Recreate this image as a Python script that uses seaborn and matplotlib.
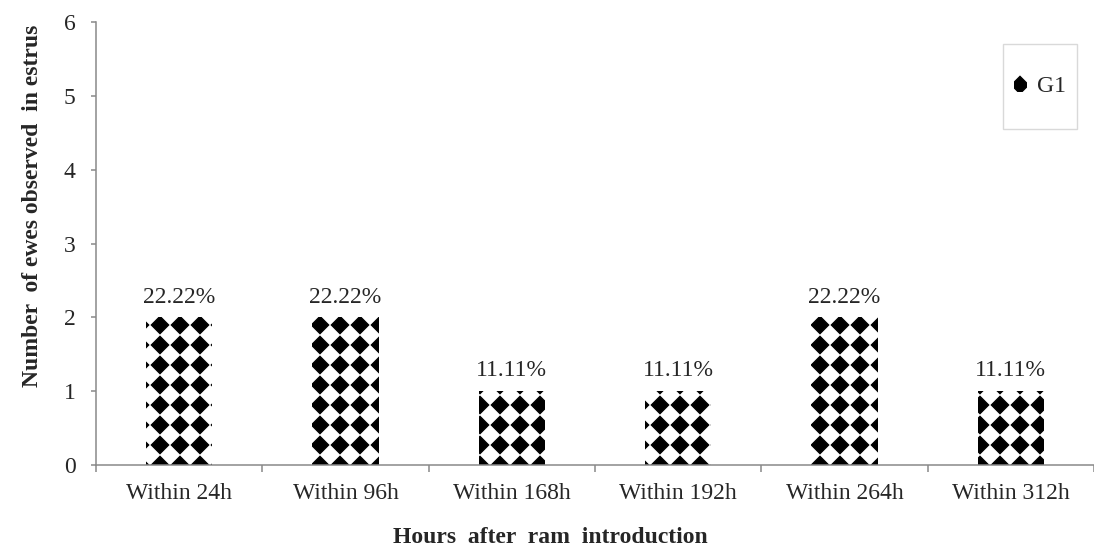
import numpy as np
import matplotlib
matplotlib.use("Agg")
import matplotlib.pyplot as plt
import matplotlib.hatch as mhatch
from matplotlib.path import Path
from matplotlib.patches import Patch, Rectangle
import seaborn as sns

categories = ["Within 24h", "Within 96h", "Within 168h", "Within 192h", "Within 264h", "Within 312h"]
ewes = [2, 2, 1, 1, 2, 1]
pct_labels = ["22.22%", "22.22%", "11.11%", "11.11%", "22.22%", "11.11%"]
y_ticks = [0, 1, 2, 3, 4, 5, 6]
series_name = "G1"

axis_grey = "#898989"


# diamond checker fill, like the excel pattern: '*' is swapped for a square grid of diamonds
# (one extra ring of cells so diamonds cut by the tile edge wrap round cleanly)
class DiamondGrid(mhatch.HatchPatternBase):
    def __init__(self, hatch, density):
        self.n = hatch.count('*') * 5
        self.num_vertices = 0 if self.n == 0 else (self.n + 2) ** 2 * 5

    def set_vertices_and_codes(self, vertices, codes):
        n = self.n
        r = 0.43 / n
        k = 0
        for i in range(-1, n + 1):
            for j in range(-1, n + 1):
                cx, cy = i / n, (j + 0.75) / n
                vertices[k:k + 5] = [(cx + r, cy), (cx, cy + r), (cx - r, cy), (cx, cy - r), (cx + r, cy)]
                codes[k:k + 5] = [Path.MOVETO, Path.LINETO, Path.LINETO, Path.LINETO, Path.CLOSEPOLY]
                k += 5


mhatch._hatch_types = [t for t in mhatch._hatch_types if t is not mhatch.Stars] + [DiamondGrid]

sns.set_style("white")
plt.rcParams['font.family'] = 'serif'
plt.rcParams['font.serif'] = ['Liberation Serif', 'DejaVu Serif']
plt.rcParams['hatch.linewidth'] = 1.0

fig = plt.figure(figsize=(10.94, 5.47), dpi=100)
ax = fig.add_axes([96 / 1094, 1 - 465 / 547, (1094 - 96) / 1094, (465 - 22) / 547])

sns.barplot(x=categories, y=ewes, color="white", saturation=1, width=0.4,
            edgecolor="black", linewidth=0, errorbar=None, ax=ax)
for bar in ax.patches:
    bar.set_hatch('*')

ax.bar_label(ax.containers[0], labels=pct_labels, padding=7, fontsize=17)

ax.set_ylim(0, 6)
ax.set_yticks(y_ticks)
ax.set_xlim(-0.5, 5.42)
ax.set_xticks(np.arange(len(categories)))
ax.set_xticks(np.arange(-0.5, 5.6, 1.0), minor=True)

for side in ["top", "right"]:
    ax.spines[side].set_visible(False)
for side in ["left", "bottom"]:
    ax.spines[side].set_color(axis_grey)
    ax.spines[side].set_linewidth(1.1)

ax.tick_params(axis="y", which="major", length=3.6, width=1.1, color=axis_grey,
               labelsize=17, pad=11, left=True)
ax.tick_params(axis="x", which="major", length=0, labelsize=17, pad=13)
ax.tick_params(axis="x", which="minor", length=5, width=1.1, color=axis_grey, bottom=True)

ax.set_xlabel("Hours  after  ram  introduction", fontsize=17, fontweight="bold", va="baseline")
ax.xaxis.set_label_coords((550 - 96) / 998, (465 - 543) / 443)
ax.set_ylabel("Number  of ewes observed  in estrus", fontsize=17, fontweight="bold", va="baseline")
ax.yaxis.set_label_coords((38 - 96) / 998, (465 - 206) / 443)

# legend box
fig.patches.append(Rectangle((1003 / 1094, 1 - 129 / 547), 74 / 1094, 85 / 547,
                             transform=fig.transFigure, facecolor="white",
                             edgecolor="#d9d9d9", linewidth=1.0, zorder=5))
handle = Patch(facecolor="white", edgecolor="black", linewidth=0, hatch='*')
leg = fig.legend(handles=[handle], labels=[series_name], loc="center",
                 bbox_to_anchor=(1040 / 1094, 1 - 86 / 547), frameon=False,
                 fontsize=17, handlelength=0.55, handleheight=0.7, handletextpad=0.4)
leg.set_zorder(6)

fig.savefig("out.png", dpi=100)
